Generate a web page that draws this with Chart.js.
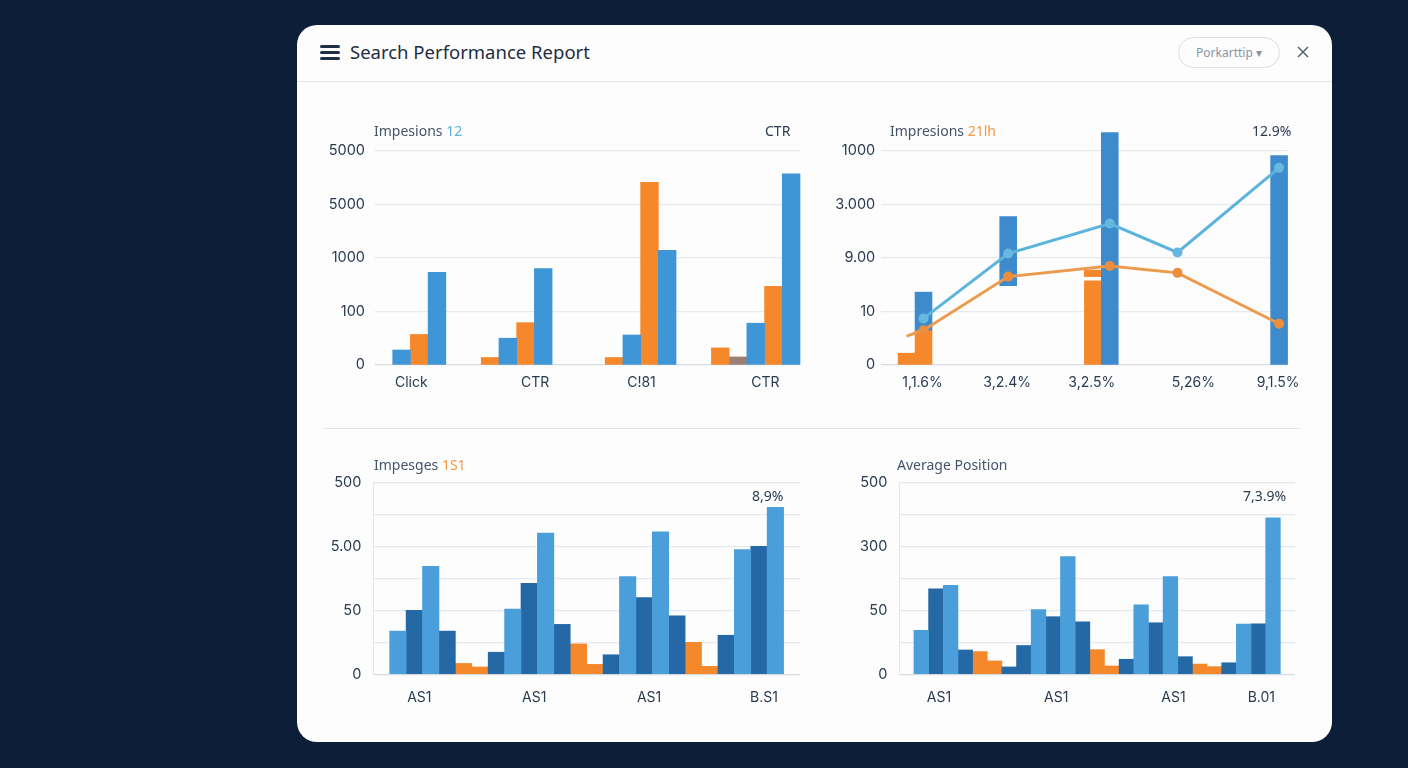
<!DOCTYPE html>
<html lang="en">
<head>
<meta charset="utf-8">
<title>Search Performance Report</title>
<script src="https://cdn.jsdelivr.net/npm/chart.js@4/dist/chart.umd.min.js"></script>
<style>
    html, body { margin: 0; height: 100%; background: #0c1e38; overflow: hidden; font-family: "Noto Sans", sans-serif; }
    #card { position: absolute; left: 297px; top: 25px; width: 1035px; height: 717px; background: #fdfdfe; border-radius: 20px; }
    #card-wrap { position: absolute; inset: 0; }
    canvas { position: absolute; }
    .rule { position: absolute; height: 1px; background: #e3e6ea; }
    .burger { position: absolute; left: 320px; width: 20px; height: 3px; border-radius: 2px; background: #1f2f46; }
    .label { position: absolute; white-space: nowrap; font-size: 14px; line-height: 18px; color: #46546a; }
    .dark { color: #2a3a50; }
    .teal { color: #5cb3da; }
    .amber { color: #f29a3c; }
    #title { position: absolute; left: 350px; top: 39px; font-size: 18.5px; line-height: 26px; color: #1f2d42; white-space: nowrap; }
    #pill { position: absolute; left: 1178px; top: 37px; width: 100px; height: 29px; border: 1px solid #d9dde2; border-radius: 16px; text-align: center; font-size: 12px; line-height: 29px; color: #8a94a3; }
</style>
</head>
<body>
<div id="card-wrap">
    <div id="card"></div>
    <div class="burger" style="top:45px"></div>
    <div class="burger" style="top:51px"></div>
    <div class="burger" style="top:57px"></div>
    <div id="title">Search Performance Report</div>
    <div id="pill">Porkarttip ▾</div>
    <svg style="position:absolute;left:1297px;top:46px" width="12" height="12"><path d="M1 1L11 11M11 1L1 11" stroke="#56616f" stroke-width="1.5"/></svg>
    <div class="rule" style="left:297px;top:81px;width:1035px"></div>
    <div class="rule" style="left:323px;top:428px;width:977px"></div>

    <canvas id="chart-clicks" width="490" height="300" style="left:320px;top:110px"></canvas>
    <canvas id="chart-trend" width="480" height="300" style="left:830px;top:110px"></canvas>
    <canvas id="chart-images" width="490" height="270" style="left:320px;top:450px"></canvas>
    <canvas id="chart-position" width="470" height="270" style="left:840px;top:450px"></canvas>

    <div class="label" style="left:374px;top:122px">Impesions <span class="teal">12</span></div>
    <div class="label dark" style="left:765px;top:122px">CTR</div>
    <div class="label" style="left:890px;top:122px">Impresions <span class="amber">21lh</span></div>
    <div class="label dark" style="left:1252px;top:122px">12.9%</div>
    <div class="label" style="left:374px;top:456px">Impesges <span class="amber">1S1</span></div>
    <div class="label dark" style="left:752px;top:487px">8,9%</div>
    <div class="label" style="left:897px;top:456px">Average Position</div>
    <div class="label dark" style="left:1243px;top:487px">7,3.9%</div>
</div>

<script>
// =============================================
// Search Performance Report - chart data
// =============================================

const _ = null;

// Top left panel
const clickSlots = ['', '', 'Click', '', '', '', '', '', '', 'CTR', '', '', '', '', '', 'C!81', '', '', '', '', '', '', 'CTR', ''];
const clickTicks = ['0', '100', '1000', '5000', '5000'];
const clickBlue = [_, .28, _, 1.73, _, _, _, .5, _, 1.8, _, _, _, _, .56, _, 2.14, _, _, _, _, .78, _, 3.57];
const clickOrange = [_, _, .57, _, _, _, .14, _, .79, _, _, _, _, .14, _, 3.41, _, _, _, .32, _, _, 1.47, _];
const clickMuted = [_, _, _, _, _, _, _, _, _, _, _, _, _, _, _, _, _, _, _, _, .15, _, _, _];

// Top right panel
const trendSlots = ['', '', '1,1.6%', '', '', '', '', '3,2.4%', '', '', '', '', '3,2.5%', '', '', '', '', '', '5,26%', '', '', '', '', '9,1.5%'];
const trendTicks = ['0', '10', '9.00', '3.000', '1000'];
const trendBlueBars = [_, _, [.65, 1.36], _, _, _, _, [1.48, 2.77], _, _, _, _, _, [0, 4.34], _, _, _, _, _, _, _, _, _, [0, 3.91]];
const trendOrangeBars = [_, .22, .65, _, _, _, _, _, _, _, _, _, 1.57, _, _, _, _, _, _, _, _, _, _, _];
const trendOrangeCaps = [_, _, _, _, _, _, _, _, _, _, _, _, [1.65, 1.77], _, _, _, _, _, _, _, _, _, _, _];
const trendBlueLine = [_, _, .87, _, _, _, _, 2.08, _, _, _, _, _, 2.64, _, _, _, 2.1, _, _, _, _, _, 3.68];
const trendOrangeLine = [_, .54, .65, _, _, _, _, 1.65, _, _, _, _, _, 1.85, _, _, _, 1.72, _, _, _, _, _, .77];

// Bottom left panel
const imageSlots = ['', '', 'AS1', '', '', '', '', '', '', 'AS1', '', '', '', '', '', '', 'AS1', '', '', '', '', '', '', 'B.S1', '', ''];
const imageTicks = ['0', '', '50', '', '5.00', '', '500'];
const imageLight = [_, 1.35, _, 3.375, _, _, _, _, 2.04, _, 4.41, _, _, _, _, 3.05, _, 4.45, _, _, _, _, 3.9, _, 5.22, _];
const imageDark = [_, _, 2, _, 1.35, _, _, .69, _, 2.84, _, 1.56, _, _, .61, _, 2.4, _, 1.83, _, _, 1.22, _, 4, _, _];
const imageOrange = [_, _, _, _, _, .34, .23, _, _, _, _, _, .95, .31, _, _, _, _, _, 1, .25, _, _, _, _, _];

// Bottom right panel
const positionSlots = ['', '', 'AS1', '', '', '', '', '', '', '', 'AS1', '', '', '', '', '', '', '', 'AS1', '', '', '', '', '', 'B.01', '', ''];
const positionTicks = ['0', '', '50', '', '300', '', '500'];
const positionLight = [_, 1.375, _, 2.78, _, _, _, _, _, 2.02, _, 3.68, _, _, _, _, 2.17, _, 3.05, _, _, _, _, 1.57, _, 4.89, _];
const positionDark = [_, _, 2.67, _, .76, _, _, .23, .9, _, 1.8, _, 1.64, _, _, .47, _, 1.61, _, .55, _, _, .36, _, 1.58, _, _];
const positionOrange = [_, _, _, _, _, .71, .42, _, _, _, _, _, _, .77, .26, _, _, _, _, _, .32, .24, _, _, _, _, _];

// =============================================
// Drawing
// =============================================

const BLUE = '#3f96d6';
const BLUE_LIGHT = '#4a9fdb';
const BLUE_DARK = '#2468a6';
const ORANGE = '#f5882a';
const TEXT = '#2a3a50';

function barSet(data, color, extra) {
    return { type: 'bar', data, backgroundColor: color, barPercentage: 1, categoryPercentage: 1, grouped: false, order: 2, clip: false, ...extra };
}

function lineSet(data, color, pointColor, hiddenFirst) {
    return {
        type: 'line', data, borderColor: color, borderWidth: 3, tension: 0, spanGaps: true, order: 1, clip: false,
        pointBackgroundColor: pointColor, pointBorderWidth: 0,
        pointRadius: c => (hiddenFirst && c.dataIndex === 1 ? 0 : 5)
    };
}

function drawPanel(id, slots, ticks, datasets, box) {
    new Chart(document.getElementById(id), {
        data: { labels: slots, datasets },
        options: {
            responsive: false,
            animation: false,
            layout: { padding: { top: box.top, right: box.right, left: 0, bottom: 0 } },
            plugins: { legend: { display: false }, tooltip: { enabled: false } },
            scales: {
                x: {
                    offset: true,
                    grid: {
                        drawTicks: false,
                        lineWidth: 1,
                        color: c => ((box.frame && (c.index === 0 || c.index === slots.length)) ? '#e4e7ec' : 'transparent')
                    },
                    border: { display: false },
                    ticks: {
                        autoSkip: false, maxRotation: 0, minRotation: 0, padding: box.labelGap, labelOffset: box.labelShift,
                        color: TEXT, font: { family: 'Inter', size: 14 }
                    },
                    afterFit: s => { s.height = box.bottom; }
                },
                y: {
                    min: 0,
                    max: ticks.length - 1,
                    grid: { drawTicks: false, lineWidth: 1.2, color: c => (c.tick.value === 0 ? '#d8dce2' : '#e6e9ee') },
                    border: { display: box.frame === true, color: '#e4e7ec' },
                    ticks: {
                        stepSize: 1, padding: box.tickGap, color: TEXT, font: { family: 'Inter', size: 14.5 },
                        callback: v => ticks[v]
                    },
                    afterFit: s => { s.width = box.left; }
                }
            }
        }
    });
}

drawPanel('chart-clicks', clickSlots, clickTicks, [
    barSet(clickBlue, BLUE),
    barSet(clickOrange, ORANGE),
    barSet(clickMuted, '#9c7f74')
], { left: 55, top: 40.7, right: 10, bottom: 45, tickGap: 10, labelGap: 9, labelShift: -8 });

drawPanel('chart-trend', trendSlots, trendTicks, [
    lineSet(trendBlueLine, '#5cb4dc', '#66b8e0'),
    lineSet(trendOrangeLine, '#ec9a4c', '#ee8e3c', true),
    barSet(trendBlueBars, '#3d8bcd'),
    barSet(trendOrangeBars, ORANGE),
    barSet(trendOrangeCaps, ORANGE)
], { left: 51.2, top: 40.7, right: 20.8, bottom: 45, tickGap: 6, labelGap: 9, labelShift: -1 });

drawPanel('chart-images', imageSlots, imageTicks, [
    barSet(imageLight, BLUE_LIGHT),
    barSet(imageDark, BLUE_DARK),
    barSet(imageOrange, ORANGE)
], { left: 53.3, top: 32.3, right: 10, bottom: 45.7, tickGap: 12, labelGap: 15, labelShift: 5, frame: true });

drawPanel('chart-position', positionSlots, positionTicks, [
    barSet(positionLight, BLUE_LIGHT),
    barSet(positionDark, BLUE_DARK),
    barSet(positionOrange, ORANGE)
], { left: 59.3, top: 32.3, right: 15, bottom: 45.7, tickGap: 12, labelGap: 15, labelShift: 3, frame: true });
</script>
</body>
</html>
